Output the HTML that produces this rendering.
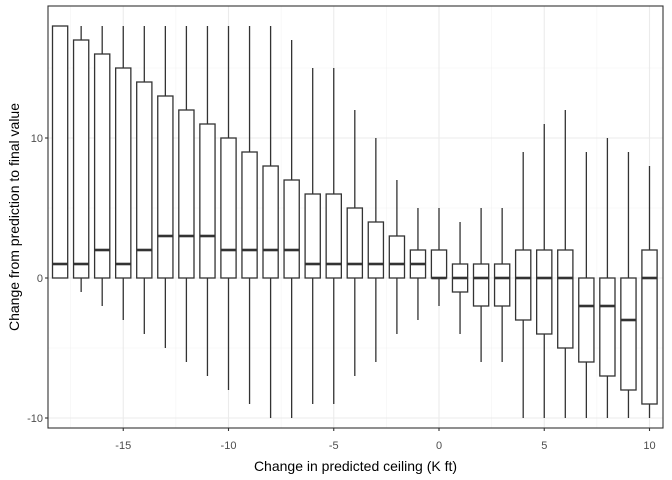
<!DOCTYPE html>
<html><head><meta charset="utf-8"><style>body{margin:0;background:#fff}svg{display:block;font-family:"Liberation Sans",sans-serif}</style></head>
<body>
<svg id="c" width="672" height="480"></svg>
<script>
const categories=[-18,-17,-16,-15,-14,-13,-12,-11,-10,-9,-8,-7,-6,-5,-4,-3,-2,-1,0,1,2,3,4,5,6,7,8,9,10];
const whiskerHigh=[18,18,18,18,18,18,18,18,18,18,18,17,15,15,12,10,7,5,5,4,5,5,9,11,12,9,10,9,8];
const q3=[18,17,16,15,14,13,12,11,10,9,8,7,6,6,5,4,3,2,2,1,1,1,2,2,2,0,0,0,2];
const medians=[1,1,2,1,2,3,3,3,2,2,2,2,1,1,1,1,1,1,0,0,0,0,0,0,0,-2,-2,-3,0];
const q1=[0,0,0,0,0,0,0,0,0,0,0,0,0,0,0,0,0,0,0,-1,-2,-2,-3,-4,-5,-6,-7,-8,-9];
const whiskerLow=[0,-1,-2,-3,-4,-5,-6,-7,-8,-9,-10,-10,-9,-9,-7,-6,-4,-3,-2,-4,-6,-6,-10,-10,-10,-10,-10,-10,-10];
const xTicks=[-15,-10,-5,0,5,10];
const yTicks=[-10,0,10];
const L=48,R=663,T=6,B=428;
const sx=v=>439+v*21.05;
const sy=v=>278-v*14;
const svg=document.getElementById('c');
const NS='http://www.w3.org/2000/svg';
function mk(t,a,p){const e=document.createElementNS(NS,t);for(const k in a)e.setAttribute(k,a[k]);(p||svg).appendChild(e);return e;}
const g=mk('g',{});


[-17.5,-12.5,-7.5,-2.5,2.5,7.5].forEach(v=>mk('line',{x1:sx(v),x2:sx(v),y1:T,y2:B,stroke:'#f2f2f2','stroke-width':0.6},g));
[-5,5,15].forEach(v=>mk('line',{x1:L,x2:R,y1:sy(v),y2:sy(v),stroke:'#f2f2f2','stroke-width':0.6},g));
xTicks.forEach(v=>mk('line',{x1:sx(v),x2:sx(v),y1:T,y2:B,stroke:'#ebebeb','stroke-width':1.1},g));
yTicks.forEach(v=>mk('line',{x1:L,x2:R,y1:sy(v),y2:sy(v),stroke:'#ebebeb','stroke-width':1.1},g));
const hw=7.6;
categories.forEach((c,i)=>{
 const bg=mk('g',{});
 
 
 const x=sx(c);
 mk('line',{x1:x,x2:x,y1:sy(whiskerHigh[i]),y2:sy(q3[i]),stroke:'#333','stroke-width':1.3},bg);
 mk('line',{x1:x,x2:x,y1:sy(q1[i]),y2:sy(whiskerLow[i]),stroke:'#333','stroke-width':1.3},bg);
 mk('rect',{x:x-hw,y:sy(q3[i]),width:2*hw,height:Math.max(0,sy(q1[i])-sy(q3[i])),fill:'#fff',stroke:'#333','stroke-width':1.3},bg);
 mk('line',{x1:x-hw,x2:x+hw,y1:sy(medians[i]),y2:sy(medians[i]),stroke:'#333','stroke-width':2.6},bg);
});
const fr=mk('rect',{x:L,y:T,width:R-L,height:B-T,fill:'none',stroke:'#333','stroke-width':1.1});


xTicks.forEach(v=>{
 mk('line',{x1:sx(v),x2:sx(v),y1:B,y2:B+3,stroke:'#333','stroke-width':1.1});
 const t=mk('text',{x:sx(v),y:B+21,'text-anchor':'middle','font-size':11,fill:'#4d4d4d'});
 
 
 t.textContent=v;
});
yTicks.forEach(v=>{
 mk('line',{x1:L-3,x2:L,y1:sy(v),y2:sy(v),stroke:'#333','stroke-width':1.1});
 const t=mk('text',{x:L-5,y:sy(v)+4,'text-anchor':'end','font-size':11,fill:'#4d4d4d'});
 
 
 t.textContent=v;
});
const xt=mk('text',{x:(L+R)/2,y:471,'text-anchor':'middle','font-size':14,fill:'#000'});


xt.textContent='Change in predicted ceiling (K ft)';
const yt=mk('text',{x:0,y:0,'text-anchor':'middle','font-size':14,fill:'#000',transform:`translate(19,${(T+B)/2}) rotate(-90)`});


yt.textContent='Change from prediction to final value';
</script>
</body></html>
